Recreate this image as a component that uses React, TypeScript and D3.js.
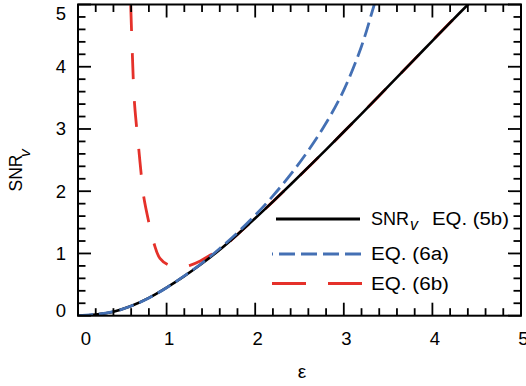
import React from "react";
import * as d3 from "d3";

// ---- data ----
const xTicks = [0, 1, 2, 3, 4, 5];
const yTicks = [0, 1, 2, 3, 4, 5];

// SNR_v EQ. (5b) – solid black
const exactEps = [0, 0.2, 0.4, 0.6, 0.8, 1.0, 1.2, 1.4, 1.6, 1.8, 2.0, 2.2, 2.4, 2.6, 2.8, 3.0, 3.2, 3.4, 3.6, 3.8, 4.0, 4.2, 4.43, 4.6];
const exactVal = [0, 0.02, 0.065, 0.155, 0.285, 0.45, 0.635, 0.838, 1.06, 1.305, 1.565, 1.833, 2.107, 2.386, 2.669, 2.955, 3.244, 3.535, 3.828, 4.122, 4.417, 4.71, 5.04, 5.29];

// EQ. (6a) – blue short dashes
const eq6aEps = [0, 0.2, 0.4, 0.6, 0.8, 1.0, 1.2, 1.4, 1.6, 1.8, 2.0, 2.2, 2.4, 2.6, 2.8, 3.0, 3.2, 3.34, 3.45];
const eq6aVal = [0, 0.02, 0.065, 0.155, 0.285, 0.45, 0.64, 0.845, 1.08, 1.335, 1.615, 1.925, 2.27, 2.655, 3.095, 3.625, 4.33, 4.98, 5.5];

// EQ. (6b) – red long dashes
const eq6bEps = [0.595, 0.613, 0.635, 0.66, 0.685, 0.712, 0.742, 0.798, 0.858, 0.925, 1.027, 1.15, 1.264, 1.38, 1.49, 1.62, 1.8, 2.0, 2.2, 2.4, 2.6, 2.8, 3.0, 3.2, 3.4, 3.6, 3.8, 4.0, 4.2, 4.43, 4.6];
const eq6bVal = [4.99, 4.22, 3.47, 3.05, 2.69, 2.29, 1.91, 1.51, 1.16, 0.92, 0.81, 0.78, 0.81, 0.88, 0.97, 1.08, 1.305, 1.565, 1.833, 2.107, 2.386, 2.669, 2.955, 3.244, 3.535, 3.828, 4.122, 4.417, 4.71, 5.04, 5.29];

const legendLabels = ["EQ. (5b)", "EQ. (6a)", "EQ. (6b)"];

// ---- layout ----
const W = 526;
const H = 386;
const L = 78;
const R = 521;
const T = 4.5;
const B = 315.7;
const FONT = "'Liberation Sans', Arial, Helvetica, sans-serif";
const BLUE = "#4470b4";
const RED = "#e5312a";

export default function App() {
  const x = d3.scaleLinear().domain([0, 5]).range([L, R]);
  const y = d3.scaleLinear().domain([0, 5]).range([B, T]);

  const line = d3
    .line<[number, number]>()
    .x((d) => x(d[0]))
    .y((d) => y(d[1]))
    .curve(d3.curveCatmullRom.alpha(0.5));

  const zip = (a: number[], b: number[]) => a.map((v, i) => [v, b[i]] as [number, number]);

  const minorX = d3.range(0, 5.001, 0.2).filter((v) => Math.abs(v - Math.round(v)) > 1e-6);
  const minorY = minorX;

  const majorLen = 13;
  const minorLen = 7.5;

  const tickLines: JSX.Element[] = [];
  xTicks.forEach((v, i) => {
    const px = x(v);
    tickLines.push(<line key={"xb" + i} x1={px} x2={px} y1={B} y2={B - majorLen} />);
    tickLines.push(<line key={"xt" + i} x1={px} x2={px} y1={T} y2={T + majorLen} />);
  });
  minorX.forEach((v, i) => {
    const px = x(v);
    tickLines.push(<line key={"mxb" + i} x1={px} x2={px} y1={B} y2={B - minorLen} />);
    tickLines.push(<line key={"mxt" + i} x1={px} x2={px} y1={T} y2={T + minorLen} />);
  });
  yTicks.forEach((v, i) => {
    const py = y(v);
    tickLines.push(<line key={"yl" + i} x1={L} x2={L + majorLen} y1={py} y2={py} />);
    tickLines.push(<line key={"yr" + i} x1={R} x2={R - majorLen} y1={py} y2={py} />);
  });
  minorY.forEach((v, i) => {
    const py = y(v);
    tickLines.push(<line key={"myl" + i} x1={L} x2={L + minorLen} y1={py} y2={py} />);
    tickLines.push(<line key={"myr" + i} x1={R} x2={R - minorLen} y1={py} y2={py} />);
  });

  const legendX1 = 276;
  const legendX2 = 360;
  const legendTextX = 371;
  const rowY = [219, 254, 283.5];

  return (
    <div style={{ margin: 0 }}>
      <svg width={W} height={H} style={{ position: "absolute", left: 0, top: 0, background: "#fff" }} fontFamily={FONT}>
        <defs>
          <clipPath id="plotClip">
            <rect x={L} y={T} width={R - L} height={B - T} />
          </clipPath>
        </defs>

        <g clipPath="url(#plotClip)" fill="none" strokeLinecap="butt">
          <path d={line(zip(eq6bEps, eq6bVal)) || ""} stroke={RED} strokeWidth={2.8} strokeDasharray="26,22" />
          <path d={line(zip(exactEps, exactVal)) || ""} stroke="#000" strokeWidth={2.6} />
          <path d={line(zip(eq6aEps, eq6aVal)) || ""} stroke={BLUE} strokeWidth={2.8} strokeDasharray="15,6" />
        </g>

        {/* frame and ticks */}
        <g stroke="#000" strokeWidth={1.8}>{tickLines}</g>
        <rect x={L} y={T} width={R - L} height={B - T} fill="none" stroke="#000" strokeWidth={2} />

        {/* y tick labels */}
        {yTicks.map((v) => {
          const by = Math.min(Math.max(y(v) + 6.5, 19.5), 317);
          return (
            <text key={"yl" + v} x={66} y={by} textAnchor="end" fontSize={18.5} fill="#000">
              {v}
            </text>
          );
        })}
        {/* x tick labels */}
        {xTicks.map((v) => {
          const cx = Math.max(x(v) + 2.5, 86);
          return (
            <text key={"xl" + v} x={cx} y={344.5} textAnchor="middle" fontSize={18.5} fill="#000">
              {v}
            </text>
          );
        })}

        {/* axis titles */}
        <text x={302} y={378} textAnchor="middle" fontSize={19} fill="#000">
          ε
        </text>
        <g transform="translate(21.5,191.5) rotate(-90)">
          <text x={0} y={0} fontSize={17.5} fill="#000">
            SNR
          </text>
          <text x={34.5} y={8} fontSize={15.5} fontStyle="italic" fill="#000">
            v
          </text>
        </g>

        {/* legend */}
        <line x1={legendX1} x2={legendX2} y1={rowY[0]} y2={rowY[0]} stroke="#000" strokeWidth={3} />
        <line x1={272} x2={361} y1={rowY[1]} y2={rowY[1]} stroke={BLUE} strokeWidth={3} strokeDasharray="16,6" strokeDashoffset={15} />
        <line x1={272} x2={362} y1={rowY[2]} y2={rowY[2]} stroke={RED} strokeWidth={3} strokeDasharray="34,22" />

        <text x={legendTextX} y={224.5} fontSize={18} fill="#000" textLength={38} lengthAdjust="spacingAndGlyphs">
          SNR
        </text>
        <text x={410} y={230} fontSize={16} fontStyle="italic" fill="#000">
          v
        </text>
        <text x={432} y={224.5} fontSize={18} fill="#000" textLength={77} lengthAdjust="spacingAndGlyphs">
          {legendLabels[0]}
        </text>
        <text x={legendTextX} y={259.5} fontSize={18} fill="#000" textLength={78} lengthAdjust="spacingAndGlyphs">
          {legendLabels[1]}
        </text>
        <text x={legendTextX} y={289.5} fontSize={18} fill="#000" textLength={78} lengthAdjust="spacingAndGlyphs">
          {legendLabels[2]}
        </text>
      </svg>
    </div>
  );
}
